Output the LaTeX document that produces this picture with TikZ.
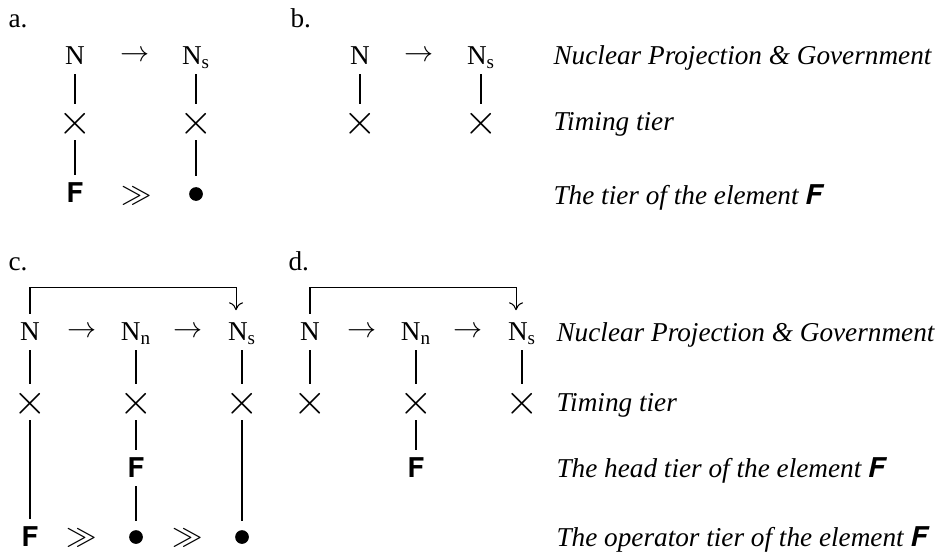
\documentclass[tikz,border=0pt]{standalone}
\usepackage{fontspec}
\setmainfont{Liberation Serif}
\usetikzlibrary{positioning,arrows.meta}
\newfontfamily\heros{TeX Gyre Heros}
\newcommand{\bF}{{\heros\bfseries F}}
\newcommand{\iF}{{\heros\bfseries\itshape F}}
\newcommand{\tcross}{\scalebox{1.7}{$\times$}}
\newcommand{\tarrow}{\scalebox{1.15}{$\rightarrow$}}
\newcommand{\tgg}{\scalebox{1.2}{$\gg$}}

\begin{document}
\begin{tikzpicture}[x=0.02cm,y=-0.02cm,line width=0.8pt,
  every node/.style={font=\fontsize{15.5}{18}\selectfont},
  tier/.style={inner sep=0pt,minimum height=20pt,text depth=0pt},
  dot/.style={circle,fill,inner sep=0pt,minimum size=7.8pt},
  brk/.style={line width=0.6pt,-{To[length=4.5pt,width=8pt]}},
  lab/.style={anchor=base west,font=\fontsize{15.5}{18}\selectfont\itshape}]
\useasboundingbox (0,0) rectangle (946,554);
% a.
\node[anchor=base west] (aLab) at (2,28) {a.};
\node[tier] (aN) at (75,56) {N};
\node[tier] (aR) at (135,56) {\tarrow};
\node[tier] (aNs) at (196,56) {N\textsubscript{s}};
\node[tier] (aX1) at (75,122) {\tcross};
\node[tier] (aX2) at (196,122) {\tcross};
\node[tier] (aF) at (75,193) {\bF};
\node[tier] (aG) at (137,195) {\tgg};
\node[dot] (aD) at (196,194) {};
\draw (aN) -- (aX1) (aX1) -- (aF);
\draw (aNs) -- (aX2);
\draw[shorten >=6pt] (aX2) -- (aD);
% b.
\node[anchor=base west] (bLab) at (284,28) {b.};
\node[tier] (bN) at (360,56) {N};
\node[tier] (bR) at (419,56) {\tarrow};
\node[tier] (bNs) at (481,56) {N\textsubscript{s}};
\node[tier] (bX1) at (360,122) {\tcross};
\node[tier] (bX2) at (481,122) {\tcross};
\draw (bN) -- (bX1) (bNs) -- (bX2);
% tiers of a. and b.
\node[lab] (tNucA) at (547,65) {Nuclear Projection \& Government};
\node[lab] (tTimA) at (547,131) {Timing tier};
\node[lab] (tElA) at (547,204) {The tier of the element \iF};
% c.
\node[anchor=base west] (cLab) at (2,270) {c.};
\node[tier] (cN) at (30,332) {N};
\node[tier] (cR1) at (82,332) {\tarrow};
\node[tier] (cNn) at (136,332) {N\textsubscript{n}};
\node[tier] (cR2) at (188,332) {\tarrow};
\node[tier] (cNs) at (242,332) {N\textsubscript{s}};
\node[tier] (cX1) at (30,402) {\tcross};
\node[tier] (cX2) at (136,402) {\tcross};
\node[tier] (cX3) at (242,402) {\tcross};
\node[tier] (cFh) at (136,468) {\bF};
\node[tier] (cF) at (30,537) {\bF};
\node[tier] (cG1) at (82,537) {\tgg};
\node[dot] (cD1) at (136,537) {};
\node[tier] (cG2) at (188,537) {\tgg};
\node[dot] (cD2) at (242,537) {};
\draw (cN) -- (cX1) (cX1) -- (cF);
\draw (cNn) -- (cX2) (cX2) -- (cFh);
\draw[shorten >=5pt] (cFh) -- (cD1);
\draw (cNs) -- (cX3);
\draw[shorten >=5pt] (cX3) -- (cD2);
\draw[brk,shorten >=2pt] (cN.north) -- ++(0,-26) -| ([xshift=-3.4pt]cNs.north);
% d.
\node[anchor=base west] (dLab) at (282,270) {d.};
\node[tier] (dN) at (310,332) {N};
\node[tier] (dR1) at (362,332) {\tarrow};
\node[tier] (dNn) at (416,332) {N\textsubscript{n}};
\node[tier] (dR2) at (468,332) {\tarrow};
\node[tier] (dNs) at (522,332) {N\textsubscript{s}};
\node[tier] (dX1) at (310,402) {\tcross};
\node[tier] (dX2) at (416,402) {\tcross};
\node[tier] (dX3) at (522,402) {\tcross};
\node[tier] (dFh) at (416,468) {\bF};
\draw (dN) -- (dX1) (dNn) -- (dX2) (dX2) -- (dFh) (dNs) -- (dX3);
\draw[brk,shorten >=2pt] (dN.north) -- ++(0,-26) -| ([xshift=-3.4pt]dNs.north);
% tiers of c. and d.
\node[lab] (tNucC) at (550,341) {Nuclear Projection \& Government};
\node[lab] (tTimC) at (550,411) {Timing tier};
\node[lab] (tHead) at (550,477) {The head tier of the element \iF};
\node[lab] (tOp) at (550,546) {The operator tier of the element \iF};
\end{tikzpicture}
\end{document}
